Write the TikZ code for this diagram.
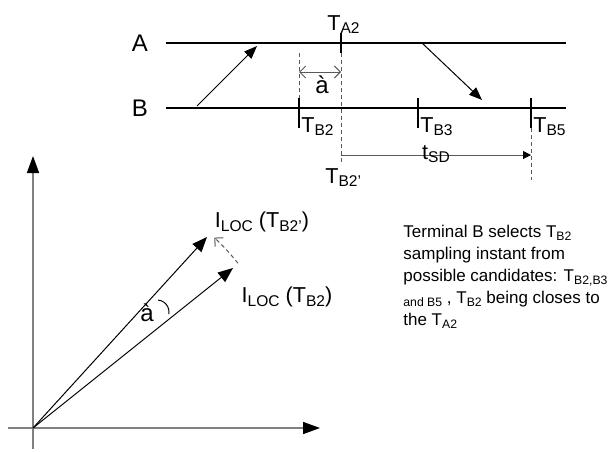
\documentclass[tikz,border=0pt]{standalone}
\usepackage{fontspec}
\setmainfont{Liberation Sans}
\usetikzlibrary{arrows.meta, positioning, calc}
\newcommand{\lowsub}[1]{\raisebox{-0.32ex}{\scalebox{0.72}{#1}}}

\begin{document}
\begin{tikzpicture}[
    x=0.5pt, y=0.5pt,
    lbl/.style={font=\fontsize{10.8}{12}\selectfont, inner sep=0pt},
    timeline/.style={line width=1.4pt},
    tick/.style={line width=1.4pt},
    guide/.style={dash pattern=on 2pt off 1.5pt, gray!70!black, line width=0.5pt},
    msg/.style={line width=0.5pt, -{Triangle[length=6.5pt, width=5pt]}},
    axis/.style={gray, line width=0.8pt, -{Triangle[length=8.5pt, width=6pt, color=black]}},
    vec/.style={line width=0.5pt, -{Triangle[length=7.5pt, width=6pt]}},
    gap/.style={gray!70!black, line width=0.5pt, {Straight Barb[length=3pt]}-{Straight Barb[length=3pt]}}
]
\useasboundingbox (0,0) rectangle (609,451);

    % terminals A and B
    \coordinate (A0) at (166,408);
    \coordinate (A1) at (566,408);
    \coordinate (B0) at (166,343);
    \coordinate (B1) at (566,343);
    \node[lbl, font=\fontsize{12}{12}\selectfont] (labA) at (140,408) {A};
    \node[lbl, font=\fontsize{12}{12}\selectfont] (labB) at (140,343) {B};
    \draw[timeline] (A0) -- (A1);
    \draw[timeline] (B0) -- (B1);

    % sampling instants
    \coordinate (tA2) at (341,408);
    \draw[tick] ($(tA2)+(0,10)$) -- ($(tA2)+(0,-10)$);
    \node[lbl, anchor=base west] (TA2) at (327,421) {T\lowsub{A2}};
    \foreach \x/\n in {299/2, 418/3, 531/5} {
        \coordinate (tB\n) at (\x,343);
        \draw[tick] ($(tB\n)+(0,10)$) -- ($(tB\n)+(0,-20)$);
        \node[lbl, anchor=base west] (TB\n) at (\x+2,319) {T\lowsub{B\n}};
    }

    % guides
    \coordinate (tB2p) at (341,288);
    \coordinate (tB5e) at (531,271);
    \draw[guide] ($(tA2)+(0,-10)$) -- (tB2p);
    \draw[guide] (299,398) -- ($(tB2)+(0,10)$);
    \draw[guide] ($(tB5)+(0,-20)$) -- (tB5e);
    \node[lbl, anchor=base west] (TB2p) at (325,268) {T\lowsub{B2'}};

    % offset
    \coordinate (g0) at (299,379);
    \coordinate (g1) at (341,379);
    \draw[gap] (g0) -- (g1);
    \node[lbl, font=\fontsize{12}{12}\selectfont] (alpha) at (322,366) {à};

    % t_SD
    \coordinate (sd0) at (341,296);
    \coordinate (sd1) at (531,296);
    \draw[gray!70!black, line width=0.5pt, -{Triangle[length=4pt, width=4pt, color=black]}] (sd0) -- (sd1);
    \node[lbl] (tSD) at (436,297) {t\lowsub{SD}};

    % messages
    \coordinate (m1s) at (197,345);
    \coordinate (m1e) at (257,405);
    \coordinate (m2s) at (422,408);
    \coordinate (m2e) at (482,351);
    \draw[msg] (m1s) -- (m1e);
    \draw[msg] (m2s) -- (m2e);

    % phasor plane
    \coordinate (O) at (33,23);
    \coordinate (xs) at (8,23);
    \coordinate (xe) at (320,23);
    \coordinate (ys) at (33,2);
    \coordinate (ye) at (33,295);
    \draw[axis] (xs) -- (xe);
    \draw[axis] (ys) -- (ye);

    \coordinate (v1) at (207,214);
    \coordinate (v2) at (233,183);
    \draw[vec] (O) -- (v1);
    \draw[vec] (O) -- (v2);
    \coordinate (angc) at (157,139);
    \draw[line width=0.5pt] ($(angc)+(85:12)$) arc[start angle=85, end angle=-10, radius=12];
    \draw[guide, -{Straight Barb[length=3pt]}] ($(O)+(38.8:263)$) arc[start angle=38.8, end angle=46.4, radius=263];
    \node[lbl, font=\fontsize{12}{12}\selectfont] (ang) at (147,138) {à};

    \node[lbl] (I2p) at (262,229) {I\lowsub{LOC} (T\lowsub{B2'})};
    \node[lbl] (I2) at (287,154) {I\lowsub{LOC} (T\lowsub{B2})};

    % note
    \node[font=\fontsize{8.5}{11}\selectfont, align=left, anchor=north west, inner sep=0pt] (note) at (403,226)
        {Terminal B selects T\lowsub{B2}\\
         sampling instant from\\
         possible candidates: T\lowsub{B2,B3}\\
         \lowsub{and B5} , T\lowsub{B2} being closes to\\
         the T\lowsub{A2}};

\end{tikzpicture}
\end{document}
